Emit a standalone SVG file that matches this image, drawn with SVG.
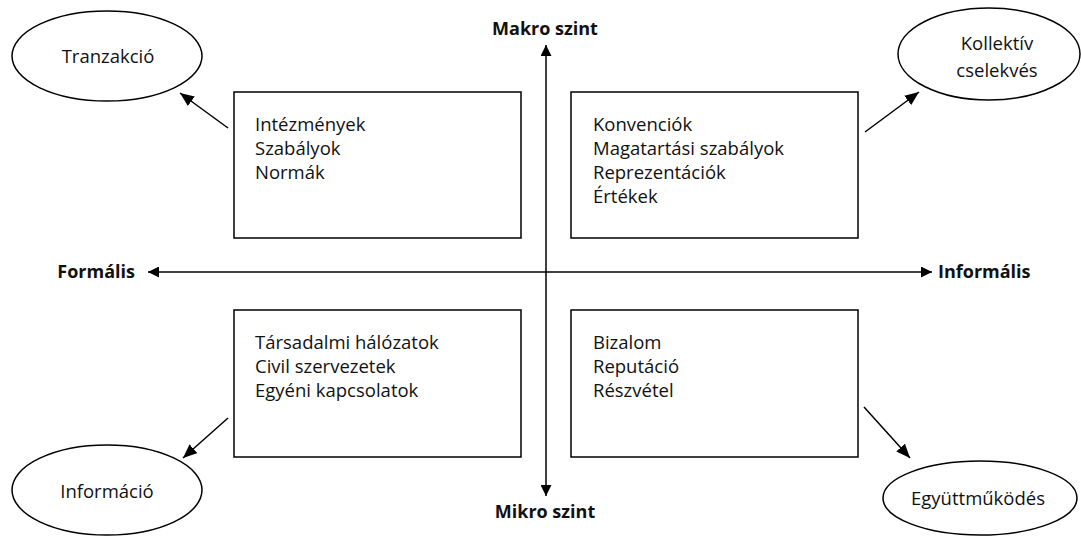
<svg xmlns="http://www.w3.org/2000/svg" width="1081" height="537" viewBox="0 0 1081 537">
<style>
.box{fill:#fff;stroke:#000;stroke-width:1.5}
.ell{fill:#fff;stroke:#000;stroke-width:1.5}
.t{font-family:"Open Sans","Liberation Sans",sans-serif;font-size:18.5px;fill:#111}
.b{font-family:"Open Sans","Liberation Sans",sans-serif;font-size:18px;font-weight:bold;fill:#111}
.ln{stroke:#000;stroke-width:1.5;fill:none}
</style>
<defs>
<marker id="ah" viewBox="0 0 10 10" refX="10" refY="5" markerWidth="11" markerHeight="11" markerUnits="userSpaceOnUse" orient="auto-start-reverse">
<path d="M0,0 L10,5 L0,10 z" fill="#000"/>
</marker>
<marker id="ah2" viewBox="0 0 12 10" refX="12" refY="5" markerWidth="14" markerHeight="12" markerUnits="userSpaceOnUse" orient="auto">
<path d="M0,0 L12,5 L0,10 z" fill="#000"/>
</marker>
</defs>
<rect width="1081" height="537" fill="#fff"/>
<g id="connectors">
<line class="ln" x1="546" y1="45" x2="546" y2="496" marker-start="url(#ah)" marker-end="url(#ah)"/>
<line class="ln" x1="148" y1="272" x2="932" y2="272" marker-start="url(#ah)" marker-end="url(#ah)"/>
<line class="ln" x1="228" y1="128" x2="180" y2="93" marker-end="url(#ah2)"/>
<line class="ln" x1="865" y1="132" x2="919" y2="92" marker-end="url(#ah2)"/>
<line class="ln" x1="228" y1="418" x2="183" y2="458" marker-end="url(#ah2)"/>
<line class="ln" x1="864" y1="407" x2="910" y2="458" marker-end="url(#ah2)"/>
</g>
<g id="labels">
<text class="b" x="545" y="35" text-anchor="middle">Makro szint</text>
<text class="b" x="545" y="518" text-anchor="middle">Mikro szint</text>
<text class="b" x="135" y="278" text-anchor="end">Formális</text>
<text class="b" x="938" y="278">Informális</text>
</g>
<g id="box-intezmenyek">
<rect class="box" x="234" y="92" width="287" height="146"/>
<text class="t" x="255" y="131">Intézmények</text>
<text class="t" x="255" y="155">Szabályok</text>
<text class="t" x="255" y="179">Normák</text>
</g>
<g id="box-konvenciok">
<rect class="box" x="571" y="92" width="287" height="146"/>
<text class="t" x="593" y="131">Konvenciók</text>
<text class="t" x="593" y="155">Magatartási szabályok</text>
<text class="t" x="593" y="179">Reprezentációk</text>
<text class="t" x="593" y="203">Értékek</text>
</g>
<g id="box-tarsadalmi">
<rect class="box" x="234" y="310" width="287" height="147"/>
<text class="t" x="255" y="349">Társadalmi hálózatok</text>
<text class="t" x="255" y="373">Civil szervezetek</text>
<text class="t" x="255" y="397">Egyéni kapcsolatok</text>
</g>
<g id="box-bizalom">
<rect class="box" x="571" y="310" width="287" height="147"/>
<text class="t" x="593" y="349">Bizalom</text>
<text class="t" x="593" y="373">Reputáció</text>
<text class="t" x="593" y="397">Részvétel</text>
</g>
<g id="ell-tranzakcio">
<ellipse class="ell" cx="107" cy="56" rx="95" ry="45"/>
<text class="t" x="108" y="63" text-anchor="middle">Tranzakció</text>
</g>
<g id="ell-kollektiv">
<ellipse class="ell" cx="989" cy="54" rx="91" ry="46"/>
<text class="t" x="997" y="50" text-anchor="middle">Kollektív</text>
<text class="t" x="997" y="77" text-anchor="middle">cselekvés</text>
</g>
<g id="ell-informacio">
<ellipse class="ell" cx="107" cy="490" rx="95" ry="45"/>
<text class="t" x="107" y="498" text-anchor="middle">Információ</text>
</g>
<g id="ell-egyuttmukodes">
<ellipse class="ell" cx="980" cy="498" rx="97" ry="37"/>
<text class="t" x="978" y="505" text-anchor="middle">Együttműködés</text>
</g>
</svg>
